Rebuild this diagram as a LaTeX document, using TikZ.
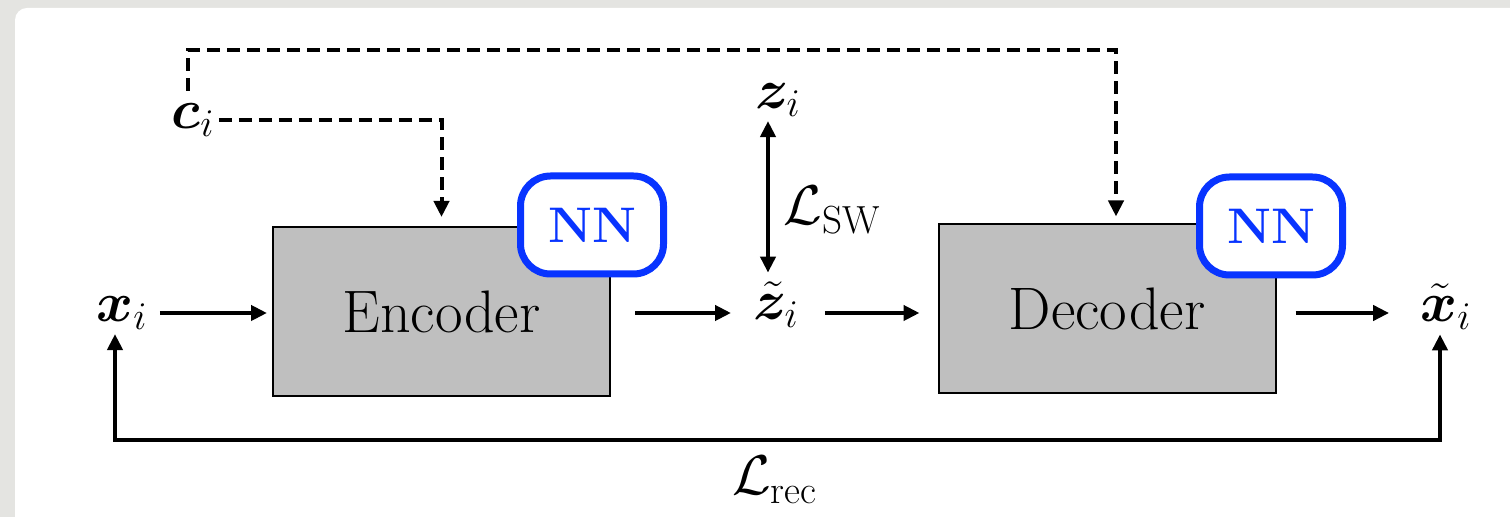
\RequirePackage{fix-cm}
\documentclass[tikz,border=0pt]{standalone}
\usepackage{amsmath,bm}
\usepackage{fontspec}
\usetikzlibrary{arrows.meta,calc}
\definecolor{nnblue}{RGB}{8,52,255}
\definecolor{bggrey}{RGB}{228,228,225}
\definecolor{boxgrey}{RGB}{191,191,191}
\begin{document}
\begin{tikzpicture}[x=0.5pt,y=-0.5pt,
  every node/.style={font=\fontsize{28}{34}\selectfont, inner sep=2pt},
  blockbox/.style={draw=black, line width=1pt, fill=boxgrey, minimum width=168.5pt, minimum height=84.5pt, font=\fontsize{30}{36}\selectfont},
  nnbox/.style={draw=nnblue, line width=3.5pt, fill=white, rounded corners=15pt, minimum width=71.5pt, minimum height=49pt, text=nnblue, font=\fontsize{25}{30}\selectfont\bfseries},
  flow/.style={line width=2pt, -{Triangle[length=8pt,width=7.5pt]}},
  dflow/.style={line width=2pt, dash pattern=on 6.5pt off 3.5pt, -{Triangle[length=8pt,width=7.5pt]}},
]
\useasboundingbox (0,0) rectangle (1510,517);
\begin{scope}
\clip (0,0) rectangle (1510,517);
\fill[bggrey] (0,0) rectangle (1510,517);
\fill[white, rounded corners=6pt] (15,8) rectangle (1540,550);
\end{scope}

\node[blockbox] (enc) at (441.5,311.5) {Encoder};
\node[blockbox] (dec) at (1107,309) {Decoder};
\node[nnbox] (nn1) at (592,225) {NN};
\node[nnbox] (nn2) at (1271,226) {NN};
\node (x) at (122,313) {$\bm{x}_i$};
\node (zt) at (776,305) {$\tilde{\bm{z}}_i$};
\node (xt) at (1446,307) {$\tilde{\bm{x}}_i$};
\node (z) at (778,100) {$\bm{z}_i$};
\node (c) at (193,120) {$\bm{c}_i$};
\node (lsw) at (832,210) {$\mathcal{L}_{\mathrm{SW}}$};
\node (lrec) at (775,480) {$\mathcal{L}_{\mathrm{rec}}$};
\coordinate (ctop) at (188,50);
\coordinate (loop) at (775,440);

\draw[flow, shorten <=4pt, shorten >=2.5pt] (x.east) -- (x.east -| enc.west);
\draw[flow, shorten <=12pt, shorten >=9pt] (enc.east |- x.east) -- (zt.west |- x.east);
\draw[flow, shorten <=11pt, shorten >=9pt] (zt.east |- x.east) -- (dec.west |- x.east);
\draw[flow, shorten <=9.5pt, shorten >=13.5pt] (dec.east |- x.east) -- (xt.west |- x.east);

\draw[line width=2pt, {Triangle[length=8pt,width=7.5pt]}-{Triangle[length=8pt,width=7.5pt]}, shorten >=2.5pt] ([xshift=-5pt]z.south) -- ([xshift=-4pt]zt.north);

\draw[line width=2pt, {Triangle[length=8pt,width=7.5pt]}-{Triangle[length=8pt,width=7.5pt]}] ([xshift=-3.5pt]x.south) |- (loop) -| ([xshift=-3pt]xt.south);

\draw[dflow, shorten >=4.5pt] (c.east) -| (enc.north);
\draw[dflow, shorten <=4pt, shorten >=3.5pt] (c.north -| ctop) -- (ctop) -| ([xshift=4.5pt]dec.north);
\end{tikzpicture}
\end{document}
